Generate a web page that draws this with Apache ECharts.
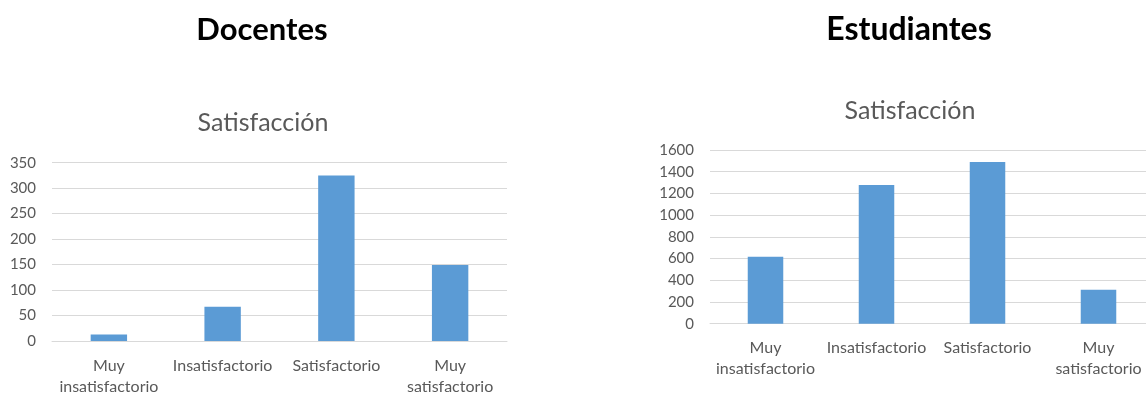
<!DOCTYPE html>
<html><head><meta charset="utf-8">
<script src="https://cdn.jsdelivr.net/npm/echarts@6/dist/echarts.min.js"></script>
<style>html,body{margin:0;padding:0;background:#fff}#c{width:1146px;height:393px}</style>
</head><body><div id="c"></div>
<script>
const categories = ["Muy insatisfactorio", "Insatisfactorio", "Satisfactorio", "Muy satisfactorio"];
const docentesValues = [13, 67, 325, 149];
const estudiantesValues = [617, 1278, 1490, 312];
const docentesTicks = { min: 0, max: 350, interval: 50 };
const estudiantesTicks = { min: 0, max: 1600, interval: 200 };
const groupTitles = ["Docentes", "Estudiantes"];
const chartTitle = "Satisfacción";

const FONT = "Lato";
const GREY = "#595959";
const catLabel = v => v.replace(/^Muy /, "Muy\n");

const chart = echarts.init(document.getElementById("c"), null, {renderer: "canvas"});
chart.setOption({
  animation: false,
  title: [
    {text: groupTitles[0], left: 257, top: 9, textAlign: "center",
     textStyle: {fontFamily: FONT, fontWeight: "bold", fontSize: 31, color: "#000"}},
    {text: groupTitles[1], left: 904, top: 9, textAlign: "center",
     textStyle: {fontFamily: FONT, fontWeight: "bold", fontSize: 32, color: "#000"}},
    {text: chartTitle, left: 258, top: 105, textAlign: "center",
     textStyle: {fontFamily: FONT, fontWeight: "normal", fontSize: 25, color: GREY}},
    {text: chartTitle, left: 905, top: 93, textAlign: "center",
     textStyle: {fontFamily: FONT, fontWeight: "normal", fontSize: 25, color: GREY}}
  ],
  grid: [
    {left: 52, right: 639, top: 162.7, bottom: 52, containLabel: false, outerBoundsMode: "none"},
    {left: 710, right: -8, top: 150, bottom: 69.3, containLabel: false, outerBoundsMode: "none"}
  ],
  xAxis: [0, 1].map(i => ({
    type: "category", gridIndex: i, data: categories,
    axisLine: {show: true, lineStyle: {color: "#D9D9D9", width: 1}},
    axisTick: {show: false},
    axisLabel: {formatter: catLabel, fontFamily: FONT, fontSize: 16, color: GREY,
                margin: 14, lineHeight: 21, interval: 0, hideOverlap: false}
  })),
  yAxis: [
    Object.assign({type: "value", gridIndex: 0}, docentesTicks),
    Object.assign({type: "value", gridIndex: 1}, estudiantesTicks)
  ].map(a => Object.assign(a, {
    axisLine: {show: false}, axisTick: {show: false},
    splitLine: {lineStyle: {color: "#D9D9D9", width: 1}},
    axisLabel: {fontFamily: FONT, fontSize: 15, color: GREY, margin: 16,
                formatter: v => String(v)}
  })),
  series: [
    {type: "bar", xAxisIndex: 0, yAxisIndex: 0, data: docentesValues,
     barWidth: "32%", itemStyle: {color: "#5B9BD5"}},
    {type: "bar", xAxisIndex: 1, yAxisIndex: 1, data: estudiantesValues,
     barWidth: "32%", itemStyle: {color: "#5B9BD5"}}
  ]
});
</script></body></html>
